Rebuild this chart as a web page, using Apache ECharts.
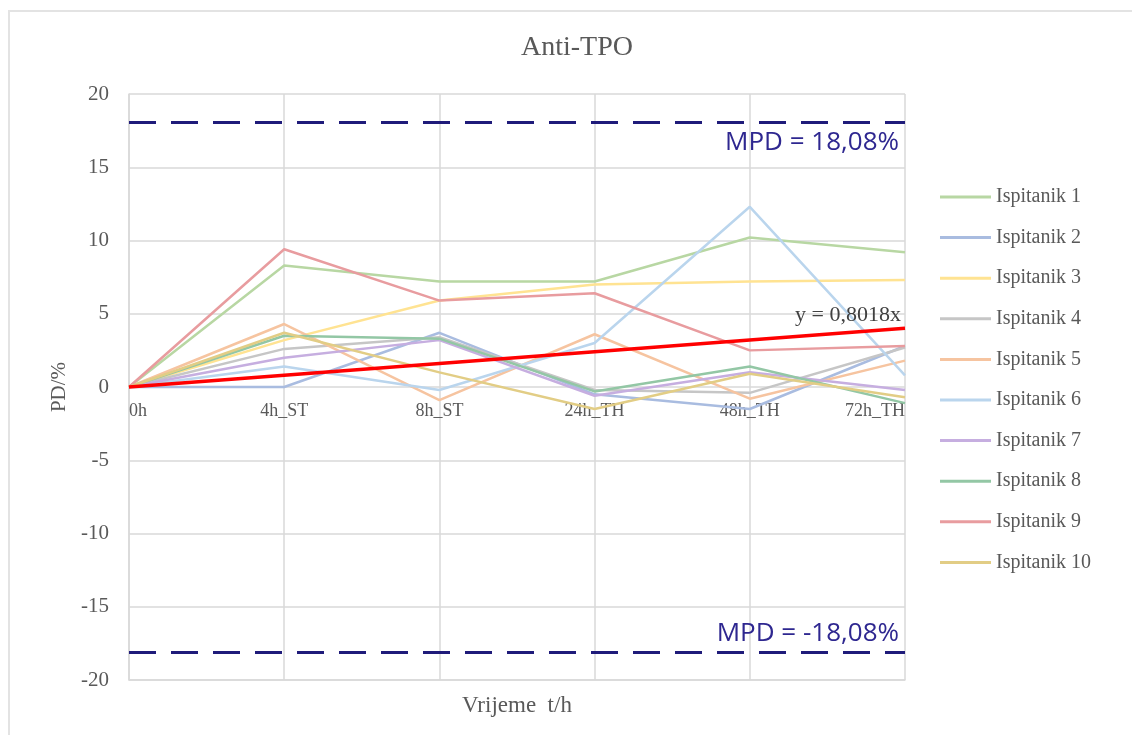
<!DOCTYPE html>
<html>
<head>
<meta charset="utf-8">
<script src="https://cdn.jsdelivr.net/npm/echarts@6/dist/echarts.min.js"></script>
<style>
    html, body { margin: 0; padding: 0; background: #fff; }
    .frame {
        position: absolute;
        left: 8px; top: 10px;
        width: 1130px; height: 730px;
        border-left: 2px solid #e3e3e3;
        border-top: 2px solid #e3e3e3;
    }
    #chart { width: 1132px; height: 735px; }
</style>
</head>
<body>
<div class="frame"></div>
<div id="chart"></div>
<script>
// time points
const categories = ['0h', '4h_ST', '8h_ST', '24h_TH', '48h_TH', '72h_TH']
const yTicks = [-20, -15, -10, -5, 0, 5, 10, 15, 20]

// PD/% per subject
const names = ['Ispitanik 1', 'Ispitanik 2', 'Ispitanik 3', 'Ispitanik 4', 'Ispitanik 5',
    'Ispitanik 6', 'Ispitanik 7', 'Ispitanik 8', 'Ispitanik 9', 'Ispitanik 10']
const isp1 = [0, 8.3, 7.2, 7.2, 10.2, 9.2]
const isp2 = [0, 0, 3.7, -0.5, -1.5, 2.8]
const isp3 = [0, 3.2, 5.9, 7.0, 7.2, 7.3]
const isp4 = [0, 2.6, 3.4, -0.2, -0.4, 2.7]
const isp5 = [0, 4.3, -0.9, 3.6, -0.8, 1.8]
const isp6 = [0, 1.4, -0.2, 3.0, 12.3, 0.8]
const isp7 = [0, 2.0, 3.2, -0.6, 1.0, -0.2]
const isp8 = [0, 3.5, 3.3, -0.3, 1.4, -1.1]
const isp9 = [0, 9.4, 5.9, 6.4, 2.5, 2.8]
const isp10 = [0, 3.7, 1.0, -1.5, 0.9, -0.7]
const subjects = [isp1, isp2, isp3, isp4, isp5, isp6, isp7, isp8, isp9, isp10]
const colors = ['#b8d7a3', '#a9bce0', '#ffe392', '#c6c6c6', '#f6c4a0',
    '#bad5ed', '#c6aee0', '#93c7a5', '#e89c9f', '#e2cd85']

// linear trend y = 0,8018x
const trend = [0, 0.80, 1.60, 2.41, 3.21, 4.01]
const mpd = 18.08

const serif = '"Liberation Serif", "DejaVu Serif", serif'

const chart = echarts.init(document.getElementById('chart'))

const series = subjects.map((d, i) => ({
    name: names[i],
    type: 'line',
    data: d,
    symbol: 'none',
    z: 2,
    lineStyle: { width: 2.5, color: colors[i] },
    itemStyle: { color: colors[i] }
}))

series.push({
    name: 'trend',
    type: 'line',
    data: trend,
    symbol: 'none',
    z: 4,
    lineStyle: { width: 3.5, color: '#ff0000' },
    markPoint: {
        silent: true,
        symbol: 'circle',
        symbolSize: 0,
        data: [{ coord: [categories.length - 1, trend[trend.length - 1]] }],
        label: {
            show: true,
            position: [-4, -24],
            align: 'right',
            formatter: 'y = 0,8018x',
            fontFamily: serif,
            fontSize: 22,
            color: '#404040'
        }
    },
    markLine: {
        silent: true,
        symbol: 'none',
        lineStyle: { color: '#1f1b7a', width: 3, type: [27, 15] },
        data: [
            { yAxis: mpd, label: { position: 'insideEndBottom', formatter: 'MPD = 18,08%', distance: [6, 7] } },
            { yAxis: -mpd, label: { position: 'insideEndTop', formatter: 'MPD = -18,08%', distance: [6, 5] } }
        ],
        label: {
            fontFamily: '"Open Sans", "Noto Sans", sans-serif',
            fontSize: 26,
            color: '#2e2790'
        }
    }
})

chart.setOption({
    animation: false,
    title: {
        text: 'Anti-TPO',
        left: 572,
        textAlign: 'center',
        top: 29,
        textStyle: { fontFamily: serif, fontSize: 28, fontWeight: 'normal', color: '#595959' }
    },
    legend: {
        data: names,
        orient: 'vertical',
        left: 935,
        top: 181,
        icon: 'rect',
        itemWidth: 51,
        itemHeight: 3,
        itemGap: 18.6,
        textStyle: { fontFamily: serif, fontSize: 20, color: '#595959', lineHeight: 22 }
    },
    grid: { left: 129, right: 227, top: 94, bottom: 55 },
    xAxis: {
        type: 'category',
        data: categories,
        boundaryGap: false,
        name: 'Vrijeme  t/h',
        nameLocation: 'middle',
        nameGap: 14,
        nameTextStyle: { fontFamily: serif, fontSize: 23, color: '#595959', verticalAlign: 'top' },
        axisLine: { show: true, onZero: false, lineStyle: { color: '#d9d9d9', width: 1.5 } },
        axisTick: { show: false },
        axisLabel: {
            fontFamily: serif, fontSize: 18, color: '#595959', margin: -278,
            alignMinLabel: 'left', alignMaxLabel: 'right'
        },
        splitLine: { show: true, lineStyle: { color: '#d9d9d9', width: 1.5 } }
    },
    yAxis: {
        type: 'value',
        min: yTicks[0],
        max: yTicks[yTicks.length - 1],
        interval: 5,
        name: 'PD/%',
        nameLocation: 'middle',
        nameGap: 56,
        nameTextStyle: { fontFamily: serif, fontSize: 21, color: '#595959' },
        axisLine: { show: true, lineStyle: { color: '#d9d9d9', width: 1.5 } },
        axisTick: { show: false },
        axisLabel: { fontFamily: serif, fontSize: 21, color: '#595959', margin: 20 },
        splitLine: { show: true, lineStyle: { color: '#d9d9d9', width: 1.5 } }
    },
    series: series
})
</script>
</body>
</html>
